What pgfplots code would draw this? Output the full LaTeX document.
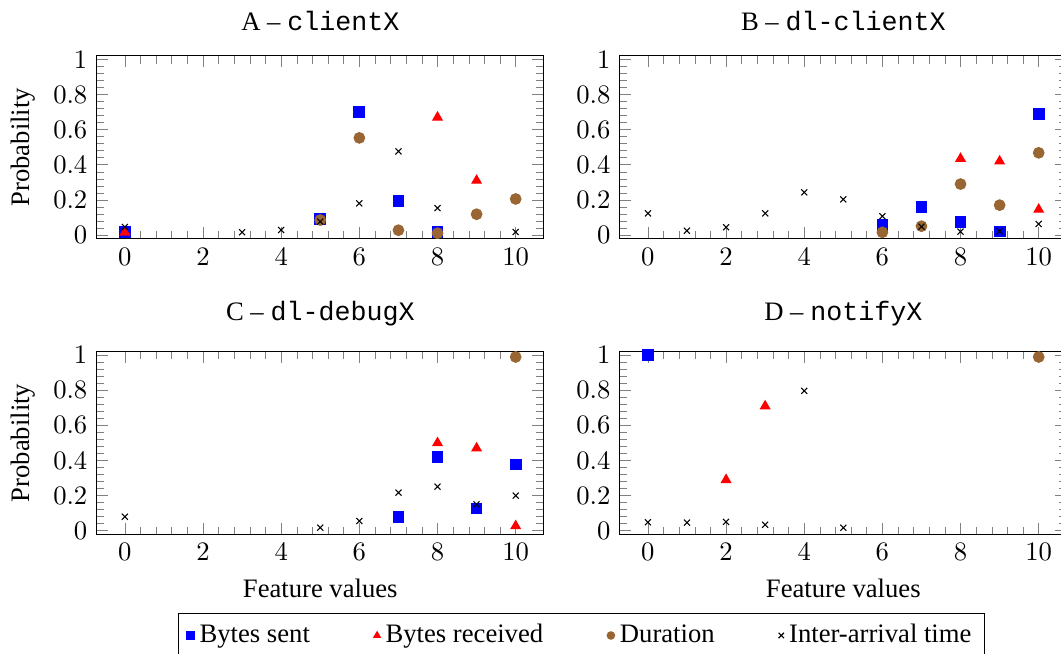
\documentclass[border=0pt]{standalone}
\usepackage{fontspec}
\setmainfont{Liberation Serif}
\setmonofont{Liberation Mono}
\usepackage{pgfplots}
\pgfplotsset{compat=1.18}
\usepgfplotslibrary{groupplots}

\pgfplotsset{
  bsent/.style={only marks, mark=square*, mark size=2pt, color=blue},
  brecv/.style={only marks, mark=triangle*, mark size=2pt, color=red},
  dur/.style={only marks, mark=*, mark size=2pt, color=brown!80!black},
  iat/.style={only marks, mark=x, mark size=1.6pt, color=black},
}

\begin{document}
\begin{tikzpicture}
\begin{groupplot}[
  group style={group size=2 by 2, horizontal sep=28.5pt, vertical sep=42.5pt},
  scale only axis,
  width=167.8pt, height=68.5pt,
  xmin=-0.72, xmax=10.72,
  ymin=-0.02, ymax=1.02,
  xtick={0,2,...,10},
  ytick={0,0.2,0.4,0.6,0.8,1},
  minor x tick num=4,
  minor y tick num=4,
]
\nextgroupplot[title={A -- \texttt{clientX}}, ylabel={Probability}]
\addplot[bsent] coordinates {(0,0.015)(5,0.09)(6,0.70)(7,0.195)(8,0.015)};
\addplot[brecv] coordinates {(0,0.015)(8,0.67)(9,0.31)};
\addplot[dur] coordinates {(5,0.085)(6,0.553)(7,0.027)(8,0.01)(9,0.118)(10,0.205)};
\addplot[iat] coordinates {(0,0.045)(3,0.015)(4,0.028)(5,0.076)(6,0.18)(7,0.476)(8,0.153)(10,0.017)};

\nextgroupplot[title={B -- \texttt{dl-clientX}}]
\addplot[bsent] coordinates {(6,0.058)(7,0.159)(8,0.072)(9,0.02)(10,0.69)};
\addplot[brecv] coordinates {(8,0.435)(9,0.42)(10,0.145)};
\addplot[dur] coordinates {(6,0.015)(7,0.05)(8,0.29)(9,0.17)(10,0.468)};
\addplot[iat] coordinates {(0,0.123)(1,0.024)(2,0.044)(3,0.123)(4,0.243)(5,0.203)(6,0.106)(7,0.047)(8,0.019)(9,0.021)(10,0.0625)};

\nextgroupplot[title={C -- \texttt{dl-debugX}}, ylabel={Probability}, xlabel={Feature values}]
\addplot[bsent] coordinates {(7,0.078)(8,0.42)(9,0.127)(10,0.377)};
\addplot[brecv] coordinates {(8,0.5)(9,0.47)(10,0.027)};
\addplot[dur] coordinates {(10,0.99)};
\addplot[iat] coordinates {(0,0.08)(5,0.017)(6,0.055)(7,0.217)(8,0.251)(9,0.15)(10,0.2)};

\nextgroupplot[title={D -- \texttt{notifyX}}, xlabel={Feature values},
  legend columns=4,
  legend style={at={(-0.0849,-0.432)}, anchor=north, draw=black,
    /tikz/every even column/.append style={column sep=22pt}},
  legend image code/.code={\draw[#1] plot coordinates {(0.1cm,0cm)};},
  legend image post style={mark size=1.4pt},
]
\addplot[bsent] coordinates {(0,1)};
\addplot[brecv] coordinates {(2,0.29)(3,0.71)};
\addplot[dur] coordinates {(10,0.99)};
\addplot[iat] coordinates {(0,0.048)(1,0.046)(2,0.05)(3,0.034)(4,0.797)(5,0.017)};
\legend{Bytes sent, Bytes received, Duration, Inter-arrival time}
\end{groupplot}
\pgfresetboundingbox
\path[use as bounding box] ([xshift=-36.3pt,yshift=21pt]group c1r1.north west)
  rectangle ([xshift=-2.2pt,yshift=-44.6pt]group c2r2.south east);
\end{tikzpicture}
\end{document}
